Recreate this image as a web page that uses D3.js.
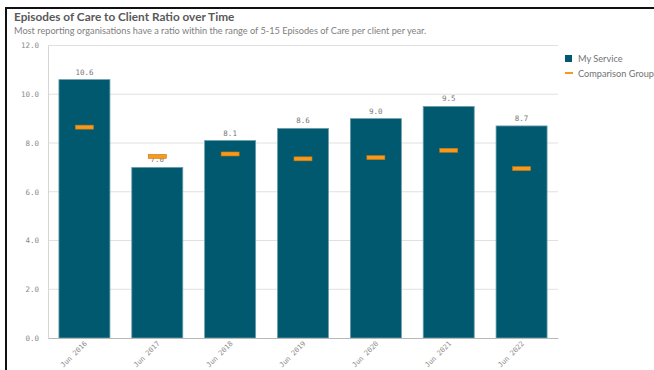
<!DOCTYPE html>
<meta charset="utf-8">
<body style="margin:0;background:#fff">
<script src="https://d3js.org/d3.v7.min.js"></script>
<div id="my_dataviz"></div>
<script>

    // data
    var periods = ["Jun 2016", "Jun 2017", "Jun 2018", "Jun 2019", "Jun 2020", "Jun 2021", "Jun 2022"];
    var myService = [10.6, 7.0, 8.1, 8.6, 9.0, 9.5, 8.7];
    var comparison = [8.65, 7.45, 7.55, 7.35, 7.4, 7.7, 6.95];
    var yTicks = [0, 2, 4, 6, 8, 10, 12];
    var seriesNames = ["My Service", "Comparison Group"];

    var W = 654, H = 370;
    var margin = {top: 45.5, left: 48, right: 96, bottom: 32};
    var width = W - margin.left - margin.right,
        height = H - margin.top - margin.bottom;

    var root = d3.select("#my_dataviz")
        .append("svg")
          .attr("width", W)
          .attr("height", H)
          .style("display", "block");

    // frame on the left and top
    root.append("line").attr("x1", 6).attr("x2", 6).attr("y1", 7).attr("y2", H)
        .attr("stroke", "#111").attr("stroke-width", 2);
    root.append("line").attr("x1", 5).attr("x2", W).attr("y1", 8).attr("y2", 8)
        .attr("stroke", "#111").attr("stroke-width", 2);

    // title + subtitle
    root.append("text")
        .attr("x", 14).attr("y", 21)
        .style("font-family", "Lato, 'Open Sans', sans-serif")
        .style("font-weight", "bold")
        .style("font-size", "11.8px")
        .attr("fill", "#595959")
        .text("Episodes of Care to Client Ratio over Time");
    root.append("text")
        .attr("x", 14).attr("y", 34)
        .style("font-family", "Lato, 'Open Sans', sans-serif")
        .style("font-size", "9.2px")
        .attr("fill", "#808080")
        .text("Most reporting organisations have a ratio within the range of 5-15 Episodes of Care per client per year.");

    var svg = root.append("g")
        .attr("transform", "translate(" + margin.left + "," + margin.top + ")");

    var x = d3.scaleBand()
        .domain(periods)
        .range([0, width])
        .paddingInner(0.3)
        .paddingOuter(0.15);

    var y = d3.scaleLinear()
        .domain([0, 12])
        .range([height, 0]);

    // gridlines
    svg.append("g")
        .selectAll("line")
        .data(yTicks.filter(function(d) { return d > 0; }))
        .enter().append("line")
          .attr("x1", 0).attr("x2", width)
          .attr("y1", function(d) { return y(d); })
          .attr("y2", function(d) { return y(d); })
          .attr("stroke", "#e0e0e0");

    // Y axis
    var yAxis = svg.append("g")
        .call(d3.axisLeft(y).tickValues(yTicks).tickFormat(d3.format(".1f")).tickSize(0).tickPadding(9));
    yAxis.select(".domain").attr("stroke", "#d6d6d6");
    yAxis.selectAll("text")
        .style("font-family", "'DejaVu Sans Mono', monospace")
        .style("font-size", "7.5px")
        .attr("fill", "#8a8a8a");

    // Bars
    svg.selectAll("mybar")
        .data(myService)
        .enter()
        .append("rect")
          .attr("x", function(d, i) { return x(periods[i]); })
          .attr("width", x.bandwidth())
          .attr("y", function(d) { return y(d); })
          .attr("height", function(d) { return height - y(d); })
          .attr("fill", "#00596e")
          .attr("stroke", "#6d9eab")
          .attr("stroke-width", 0.8);

    // X axis
    var xAxis = svg.append("g")
        .attr("transform", "translate(0," + height + ")")
        .call(d3.axisBottom(x).tickSize(0).tickPadding(0));
    xAxis.select(".domain").attr("stroke", "#b8b8b8");
    xAxis.selectAll("text")
        .attr("y", 0)
        .attr("dy", 0)
        .attr("transform", "translate(3,6)rotate(-45)")
        .style("text-anchor", "end")
        .style("font-family", "'DejaVu Sans Mono', monospace")
        .style("font-size", "7px")
        .attr("fill", "#8a8a8a");

    // value labels
    svg.selectAll("vlabel")
        .data(myService)
        .enter()
        .append("text")
          .attr("x", function(d, i) { return x(periods[i]) + x.bandwidth() / 2; })
          .attr("y", function(d) { return y(d) - 5; })
          .attr("text-anchor", "middle")
          .style("font-family", "'DejaVu Sans Mono', monospace")
          .style("font-size", "7.5px")
          .attr("fill", "#777")
          .text(function(d) { return d3.format(".1f")(d); });

    // comparison markers
    svg.selectAll("marker")
        .data(comparison)
        .enter()
        .append("rect")
          .attr("x", function(d, i) { return x(periods[i]) + x.bandwidth() / 2 - 9; })
          .attr("y", function(d) { return y(d) - 2; })
          .attr("width", 18)
          .attr("height", 4)
          .attr("fill", "#f8981d")
          .attr("stroke", "#c47a12")
          .attr("stroke-width", 0.6);

    // legend
    var legend = root.append("g").attr("transform", "translate(565,55)");
    legend.append("rect")
        .attr("x", 0).attr("y", 0).attr("width", 7).attr("height", 7)
        .attr("fill", "#00596e");
    legend.append("rect")
        .attr("x", 0).attr("y", 17).attr("width", 8).attr("height", 2)
        .attr("fill", "#f8981d");
    legend.selectAll("ltext")
        .data(seriesNames)
        .enter()
        .append("text")
          .attr("x", 13)
          .attr("y", function(d, i) { return 6.5 + i * 15; })
          .style("font-family", "Lato, 'Open Sans', sans-serif")
          .style("font-size", "9.2px")
          .attr("fill", "#737373")
          .text(function(d) { return d; });

</script>
</body>
